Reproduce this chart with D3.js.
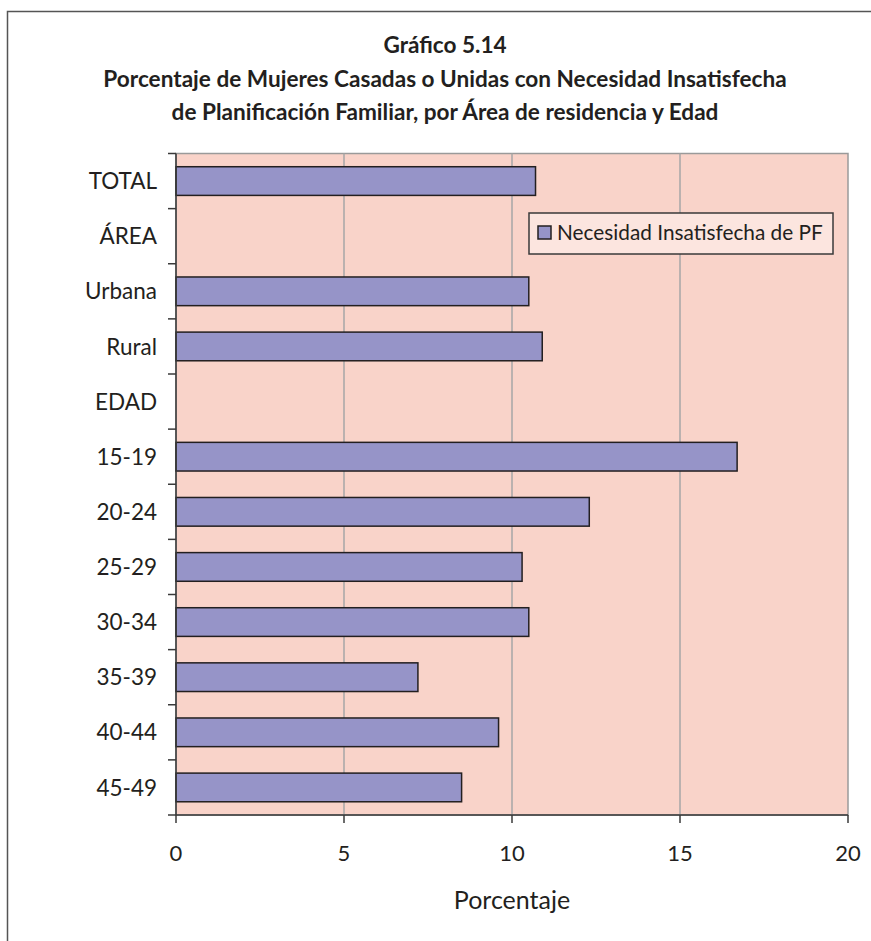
<!DOCTYPE html>
<html>
<head>
<meta charset="utf-8">
<script src="https://cdn.jsdelivr.net/npm/d3@7"></script>
<style>
  html, body { margin: 0; padding: 0; background: #fff; }
  svg { display: block; }
  text { font-family: Lato, "Noto Sans", sans-serif; fill: #231f20; }
</style>
</head>
<body>
<svg id="chart" width="871" height="941"></svg>
<script>
const categories = ["TOTAL", "ÁREA", "Urbana", "Rural", "EDAD", "15-19", "20-24", "25-29", "30-34", "35-39", "40-44", "45-49"];
const values = [10.7, null, 10.5, 10.9, null, 16.7, 12.3, 10.3, 10.5, 7.2, 9.6, 8.5];
const xTicks = [0, 5, 10, 15, 20];
const titleLines = ["Gráfico 5.14", "Porcentaje de Mujeres Casadas o Unidas con Necesidad Insatisfecha", "de Planificación Familiar, por Área de residencia y Edad"];
const seriesName = "Necesidad Insatisfecha de PF";
const xAxisTitle = "Porcentaje";

const svg = d3.select("#chart");
const W = 871, H = 941;
const plot = { left: 176, right: 848, top: 153.5, bottom: 815 };

// outer frame
svg.append("rect")
  .attr("x", 7.5).attr("y", 11.5)
  .attr("width", W + 20).attr("height", H + 20)
  .attr("fill", "none").attr("stroke", "#555").attr("stroke-width", 1.5);

// title
const title = svg.append("g").attr("text-anchor", "middle");
const titleY = [53, 87, 120];
titleLines.forEach((t, i) => {
  title.append("text")
    .attr("x", 445).attr("y", titleY[i])
    .attr("font-size", 22.6).attr("font-weight", "bold")
    .text(t);
});

const x = d3.scaleLinear().domain([0, 20]).range([plot.left, plot.right]);
const y = d3.scaleBand().domain(categories).range([plot.top, plot.bottom]).paddingInner(0.48).paddingOuter(0.24);
const yb = d3.scaleBand().domain(categories).range([plot.top, plot.bottom]);

// plot background
svg.append("rect")
  .attr("x", plot.left).attr("y", plot.top)
  .attr("width", plot.right - plot.left).attr("height", plot.bottom - plot.top)
  .attr("fill", "#f9d3c9").attr("stroke", "#9a9a9a").attr("stroke-width", 1.5);

// gridlines
svg.append("g").selectAll("line").data(xTicks.filter(d => d > 0 && d < 20)).join("line")
  .attr("x1", d => x(d)).attr("x2", d => x(d))
  .attr("y1", plot.top).attr("y2", plot.bottom)
  .attr("stroke", "#a6a6a6").attr("stroke-width", 1.5);

// bars
const barData = categories.map((c, i) => ({ c, v: values[i] })).filter(d => d.v != null);
svg.append("g").selectAll("rect").data(barData).join("rect")
  .attr("x", x(0))
  .attr("y", d => y(d.c))
  .attr("width", d => x(d.v) - x(0))
  .attr("height", y.bandwidth())
  .attr("fill", "#9694c8")
  .attr("stroke", "#231f20").attr("stroke-width", 1.5);

// y axis
const yAxis = svg.append("g");
yAxis.append("line")
  .attr("x1", plot.left).attr("x2", plot.left)
  .attr("y1", plot.top).attr("y2", plot.bottom)
  .attr("stroke", "#3a3a3a").attr("stroke-width", 1.5);
const yTickPos = categories.map(c => yb(c)).concat([plot.bottom]);
yAxis.selectAll("line.t").data(yTickPos).join("line").attr("class", "t")
  .attr("x1", plot.left - 8).attr("x2", plot.left)
  .attr("y1", d => d).attr("y2", d => d)
  .attr("stroke", "#3a3a3a").attr("stroke-width", 1.5);
yAxis.selectAll("text").data(categories).join("text")
  .attr("x", 157).attr("y", d => yb(d) + yb.bandwidth() / 2)
  .attr("dy", "0.36em").attr("text-anchor", "end")
  .attr("font-size", 22.5)
  .text(d => d);

// x axis
const xAxis = svg.append("g");
xAxis.append("line")
  .attr("x1", plot.left).attr("x2", plot.right)
  .attr("y1", plot.bottom).attr("y2", plot.bottom)
  .attr("stroke", "#3a3a3a").attr("stroke-width", 1.5);
xAxis.selectAll("line.t").data(xTicks).join("line").attr("class", "t")
  .attr("x1", d => x(d)).attr("x2", d => x(d))
  .attr("y1", plot.bottom).attr("y2", plot.bottom + 8)
  .attr("stroke", "#3a3a3a").attr("stroke-width", 1.5);
xAxis.selectAll("text").data(xTicks).join("text")
  .attr("x", d => x(d)).attr("y", 861)
  .attr("text-anchor", "middle").attr("font-size", 22)
  .text(d => d);
svg.append("text")
  .attr("x", x(10)).attr("y", 909)
  .attr("text-anchor", "middle").attr("font-size", 25)
  .text(xAxisTitle);

// legend
const lg = svg.append("g").attr("transform", "translate(529,213)");
lg.append("rect").attr("width", 304).attr("height", 41)
  .attr("fill", "#fce5df").attr("stroke", "#3a3a3a").attr("stroke-width", 1.5);
lg.append("rect").attr("x", 9).attr("y", 13).attr("width", 13).attr("height", 13)
  .attr("fill", "#9694c8").attr("stroke", "#231f20").attr("stroke-width", 1.5);
lg.append("text").attr("x", 28).attr("y", 27)
  .attr("font-size", 20.8).text(seriesName);
</script>
</body>
</html>
